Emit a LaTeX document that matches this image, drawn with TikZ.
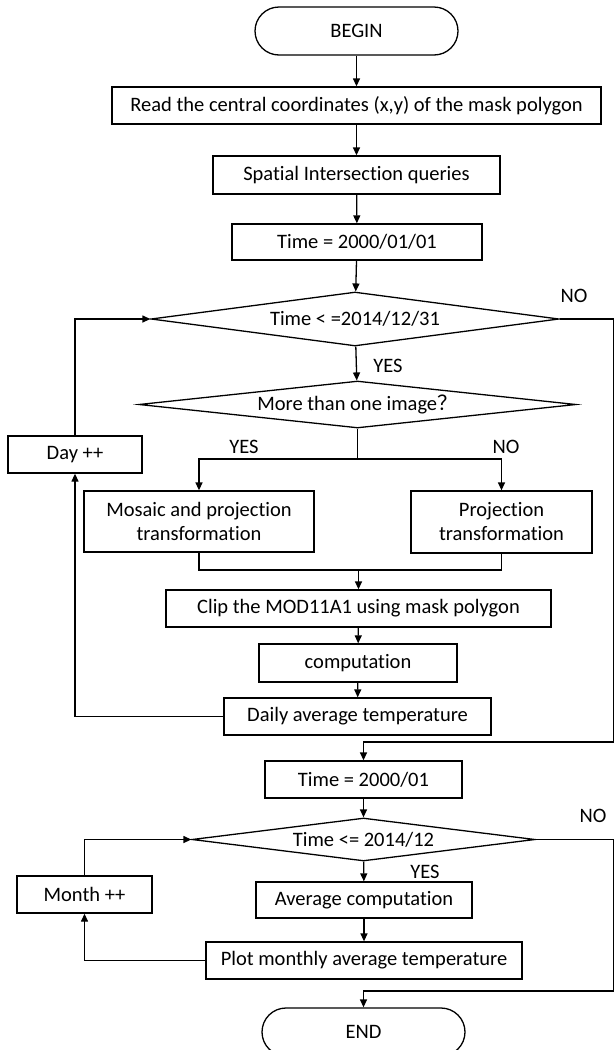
\documentclass[tikz,border=0pt]{standalone}
\usepackage{fontspec}
\setmainfont[Ligatures=NoCommon]{Carlito}
\newfontfamily\cjk{Noto Sans CJK SC}
\usepackage{tikz}
\usetikzlibrary{shapes.geometric,arrows.meta}

\begin{document}
\begin{tikzpicture}[
  x=1pt, y=-1pt,
  font=\fontsize{20.5}{24}\selectfont,
  box/.style={rectangle, draw, line width=1.3pt, inner sep=0pt, align=center},
  term/.style={rectangle, rounded corners=24pt, draw, line width=1.3pt,
               minimum width=203pt, minimum height=48pt, inner sep=0pt},
  dec/.style={diamond, draw, line width=1.3pt, inner sep=0pt, shape aspect=7.5},
  arrow/.style={-{Triangle[length=8pt,width=7pt]}, line width=1.3pt},
  line/.style={line width=1.3pt},
  lbl/.style={inner sep=0pt}
]
\useasboundingbox (0,0) rectangle (615,1050);

% nodi
\node[term] (begin) at (356.5,31) {BEGIN};
\node[box, minimum width=489pt, minimum height=37pt] (read) at (356.5,105.5)
  {Read the central coordinates (x,y) of the mask polygon};
\node[box, minimum width=287pt, minimum height=38pt] (spatial) at (356.5,175)
  {Spatial Intersection queries};
\node[box, minimum width=250pt, minimum height=36pt] (t0) at (357,242)
  {Time = 2000/01/01};
\node[dec, minimum width=408pt, minimum height=54pt] (cond1) at (355,319)
  {Time < =2014/12/31};
\node[dec, minimum width=437pt, minimum height=47pt] (multi) at (357.5,404.5)
  {More than one image{\cjk ？}};
\node[box, minimum width=134pt, minimum height=37pt] (day) at (75,454.5) {Day ++};
\node[box, minimum width=230pt, minimum height=61pt] (mosaic) at (199,521.5)
  {Mosaic and projection\\transformation};
\node[box, minimum width=181pt, minimum height=62pt] (proj) at (501.5,522)
  {Projection\\transformation};
\node[box, minimum width=385pt, minimum height=37pt] (clip) at (358.5,608.5)
  {Clip the MOD11A1 using mask polygon};
\node[box, minimum width=198pt, minimum height=38pt] (comp) at (358,663) {computation};
\node[box, minimum width=267pt, minimum height=37pt] (daily) at (357.5,716.5)
  {Daily average temperature};
\node[box, minimum width=197pt, minimum height=37pt] (t1) at (363.5,779.5)
  {Time = 2000/01};
\node[dec, minimum width=343pt, minimum height=43pt] (cond2) at (363.5,839.5)
  {Time <= 2014/12};
\node[box, minimum width=216pt, minimum height=36pt] (avg) at (364,900)
  {Average computation};
\node[box, minimum width=135pt, minimum height=37pt] (month) at (84.5,894.5) {Month ++};
\node[box, minimum width=316pt, minimum height=37pt] (plot) at (364,960.5)
  {Plot monthly average temperature};
\node[term] (end) at (363.5,1032) {END};

% punti di appoggio
\coordinate (noA) at (613.5,742);
\coordinate (split) at (357.5,459);
\coordinate (merge) at (358.5,570);
\coordinate (noB) at (613.5,991);

% frecce dritte
\draw[arrow] (begin) -- (read);
\draw[arrow] (read) -- (spatial);
\draw[arrow] (spatial) -- (t0);
\draw[arrow] (t0) -- (cond1);
\draw[arrow] (cond1) -- (multi);
\draw[line] (multi.south) -- (split);
\draw[arrow] (split) -| (mosaic.north);
\draw[arrow] (split) -| (proj.north);
\draw[line] (mosaic.south) |- (merge);
\draw[line] (proj.south) |- (merge);
\draw[arrow] (merge) -- (clip.north);
\draw[arrow] (clip) -- (comp);
\draw[arrow] (comp) -- (daily);
\draw[arrow] (t1) -- (cond2);
\draw[arrow] (cond2) -- (avg);
\draw[arrow] (avg) -- (plot);

% cicli
\draw[arrow] (daily.west) -| (day.south);
\draw[arrow] (day.north) |- (cond1.west);
\draw[arrow] (plot.west) -| (month.south);
\draw[arrow] (month.north) |- (cond2.west);

% uscite NO
\draw[arrow] (cond1.east) -| (noA) -| (t1.north);
\draw[arrow] (cond2.east) -| (noB) -| (end.north);

% etichette
\node[lbl] (no1) at (574,296) {NO};
\node[lbl] (yes1) at (388,366) {YES};
\node[lbl] (yes2) at (244,447) {YES};
\node[lbl] (no2) at (506,447) {NO};
\node[lbl] (no3) at (593,816) {NO};
\node[lbl] (yes3) at (425,872) {YES};
\end{tikzpicture}
\end{document}
